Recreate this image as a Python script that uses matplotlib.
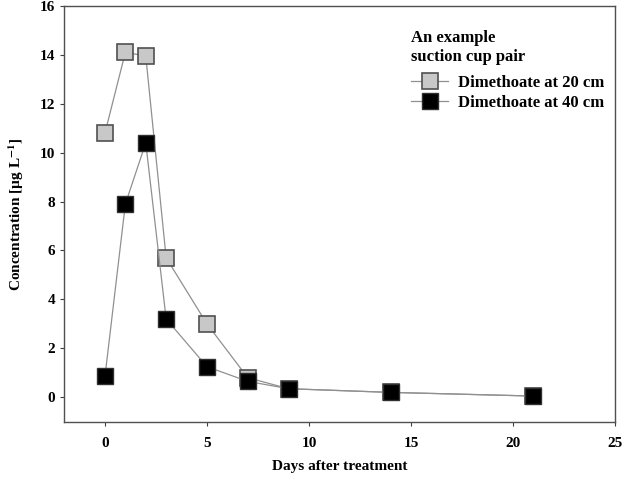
import matplotlib.pyplot as plt

# Datos
dias = [0, 1, 2, 3, 5, 7, 9, 14, 21]
conc_20cm = [10.8, 14.1, 13.95, 5.7, 3.0, 0.8, 0.35, 0.2, 0.05]
conc_40cm = [0.85, 7.9, 10.4, 3.2, 1.25, 0.65, 0.35, 0.2, 0.05]

plt.rcParams['font.family'] = ['Liberation Serif', 'DejaVu Serif']
plt.rcParams['font.weight'] = 'bold'
plt.rcParams['mathtext.fontset'] = 'stix'

fig = plt.figure(figsize=(6.23, 4.87), dpi=100)
ax = fig.add_axes([0.103, 0.134, 0.884, 0.854])

ax.plot(dias, conc_20cm, color='#909090', lw=0.9, marker='s', markersize=11,
        markerfacecolor='#c8c8c8', markeredgecolor='#505050', markeredgewidth=1.2,
        label='Dimethoate at 20 cm')
ax.plot(dias, conc_40cm, color='#909090', lw=0.9, marker='s', markersize=11,
        markerfacecolor='black', markeredgecolor='#303030', markeredgewidth=1.0,
        label='Dimethoate at 40 cm')

ax.set_xlim(-2, 25)
ax.set_ylim(-1, 16)
ax.set_xticks([0, 5, 10, 15, 20, 25])
ax.set_yticks(range(0, 17, 2))
ax.tick_params(direction='out', length=3, width=0.8, labelsize=11, color='#404040')
for lab in ax.get_xticklabels() + ax.get_yticklabels():
    lab.set_fontweight('bold')
ax.tick_params(axis='x', pad=8)

for s in ax.spines.values():
    s.set_color('#505050')
    s.set_linewidth(1.0)

ax.set_xlabel('Days after treatment', fontsize=11, fontweight='bold', labelpad=7)
ax.set_ylabel('Concentration [µg L$^{\\mathbf{-1}}$]', fontsize=11, fontweight='bold', labelpad=10)

leg = ax.legend(title='An example\nsuction cup pair', loc='upper left',
                bbox_to_anchor=(0.66, 0.938), bbox_transform=fig.transFigure,
                frameon=False, fontsize=12,
                title_fontproperties={'weight': 'bold', 'size': 12},
                handlelength=2.2, handletextpad=0.6, labelspacing=0.25,
                borderpad=0, borderaxespad=0)
leg._legend_box.align = 'left'
leg._legend_box.sep = 7.5

plt.savefig('out.png', dpi=100)
plt.close()
